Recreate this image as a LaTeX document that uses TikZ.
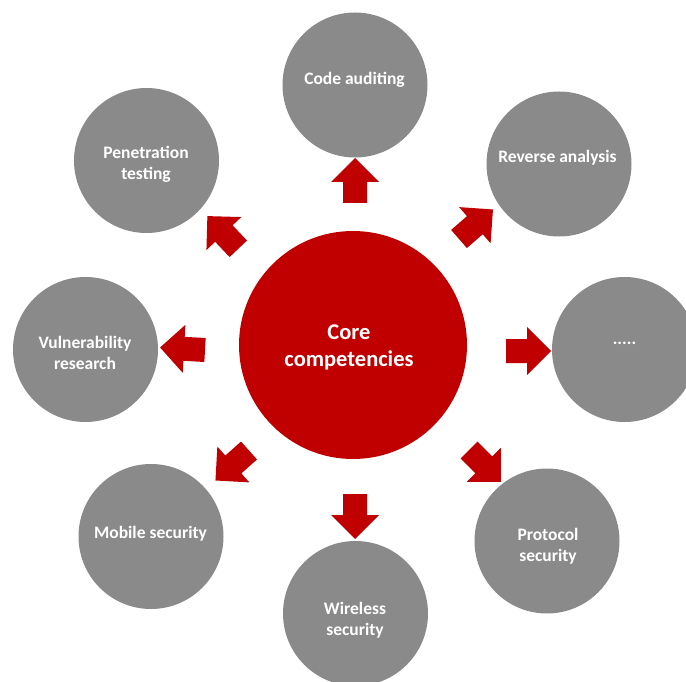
\documentclass[tikz,border=0pt]{standalone}
\usepackage{fontspec}
\setmainfont{Carlito}
\definecolor{corered}{RGB}{192,0,0}
\definecolor{bubgray}{RGB}{138,138,138}
\tikzset{
  pics/bigarrow/.style={code={
    \fill[corered] (0,12) -- (21,12) -- (21,24) -- (45,0) -- (21,-24) -- (21,-12) -- (0,-12) -- cycle;}},
  bub/.style={circle, fill=bubgray, inner sep=0pt, minimum size=145pt},
  corebub/.style={circle, fill=corered, inner sep=0pt, minimum size=228pt},
  lbl/.style={text=white, font=\bfseries\fontsize{17.5}{21}\selectfont, align=center, inner sep=0pt},
  corelbl/.style={text=white, font=\bfseries\fontsize{22.5}{27}\selectfont, align=center, inner sep=0pt}
}
\begin{document}
\begin{tikzpicture}[x=1pt,y=-1pt]
\useasboundingbox (0,0) rectangle (686,682);
\clip (0,0) rectangle (686,682);
% circles
\node[corebub] (core) at (353,345) {};
\node[bub] (code) at (355,85) {};
\node[bub] (rev) at (559,164) {};
\node[bub] (dots) at (624.5,349.5) {};
\node[bub] (prot) at (547,541) {};
\node[bub] (wire) at (355.5,613.5) {};
\node[bub] (mob) at (151,536.5) {};
\node[bub] (vul) at (85.5,349.5) {};
\node[bub] (pen) at (146.5,160.5) {};
% labels
\node[corelbl] (coreT) at (349,347.8) {Core\\competencies};
\node[lbl] (codeT) at (354.5,80.3) {Code auditing};
\node[lbl] (revT) at (557.5,157.3) {Reverse analysis};
\node[lbl] (dotsT) at (624.5,343) {.....};
\node[lbl] (protT) at (548,545.8) {Protocol\\security};
\node[lbl] (wireT) at (355,619.8) {Wireless\\security};
\node[lbl] (mobT) at (150.5,533.3) {Mobile security};
\node[lbl] (vulT) at (85,353) {Vulnerability\\research};
\node[lbl] (penT) at (146,164.8) {Penetration\\testing};
% block arrows
\pic[rotate=90] (a1) at (355,203) {bigarrow};
\pic[rotate=41] (a2) at (459,239) {bigarrow};
\pic[rotate=0] (a3) at (506,351) {bigarrow};
\pic[rotate=-45] (a4) at (469,450) {bigarrow};
\pic[rotate=-90] (a5) at (355,494) {bigarrow};
\pic[rotate=-138.2] (a6) at (249,450.5) {bigarrow};
\pic[rotate=176.8] (a7) at (205,350) {bigarrow};
\pic[rotate=133.4] (a8) at (238.3,248.8) {bigarrow};
\end{tikzpicture}
\end{document}
